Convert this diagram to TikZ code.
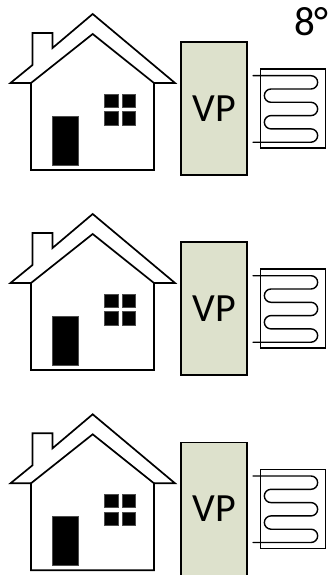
\documentclass[tikz,border=0pt]{standalone}
\usepackage{fontspec}
\setmainfont{Carlito}
\definecolor{vpfill}{HTML}{DDE1CC}
\tikzset{
  outline/.style={draw=black,line width=1.7pt,line join=miter},
  solidpart/.style={fill=black,draw=black!70,line width=.4pt},
  vpbox/.style={draw=black,fill=vpfill,line width=1.6pt,minimum width=66pt,minimum height=133pt,inner sep=0pt,font=\fontsize{40}{40}\selectfont},
  coilbox/.style={draw=black,line width=1.5pt,minimum width=65pt,minimum height=79pt,inner sep=0pt},
  coilline/.style={draw=black,line width=1.4pt,line cap=round},
}
\newcommand{\heatunit}[2]{%
\begin{scope}[yshift=-#1pt]
  \draw[outline] (31,170) -- (31,83) -- (92.7,34) -- (154,83) -- (154,170) -- cycle;
  \draw[outline] (31,83) -- (10.5,83) -- (32.5,65) -- (32.5,33) -- (52.5,33) -- (52.5,48) -- (92.7,14) -- (175,83) -- (154,83);
  \fill[solidpart] (52.5,116) rectangle (78.5,165);
  \fill[solidpart] (104.5,94) rectangle (118,107);
  \fill[solidpart] (122,94) rectangle (135.5,107);
  \fill[solidpart] (104.5,111.5) rectangle (118,125);
  \fill[solidpart] (122,111.5) rectangle (135.5,125);
  \node[vpbox] (vp#2) at (214,108.5) {VP};
  \node[coilbox] (coil#2) at (292.8,108.5) {};
  \draw[coilline] (253,75.7) -- (311,75.7) arc[start angle=-90,end angle=90,radius=6.65] -- (271,89) arc[start angle=-90,end angle=-270,radius=6.65] -- (311,102.3) arc[start angle=-90,end angle=90,radius=6.65] -- (271,115.6) arc[start angle=-90,end angle=-270,radius=6.65] -- (311,128.9) arc[start angle=-90,end angle=90,radius=6.65] -- (253,142.2);
\end{scope}}
\begin{document}
\begin{tikzpicture}[x=1pt,y=-1pt]
  \useasboundingbox (0,0) rectangle (329,575);
  \fill[white] (0,0) rectangle (329,575);
  \heatunit{0}{a}
  \heatunit{200}{b}
  \heatunit{400.3}{c}
  \node[anchor=center,inner sep=0pt,font=\fontsize{41}{41}\selectfont] (temp) at (311.5,22) {8°};
\end{tikzpicture}
\end{document}
